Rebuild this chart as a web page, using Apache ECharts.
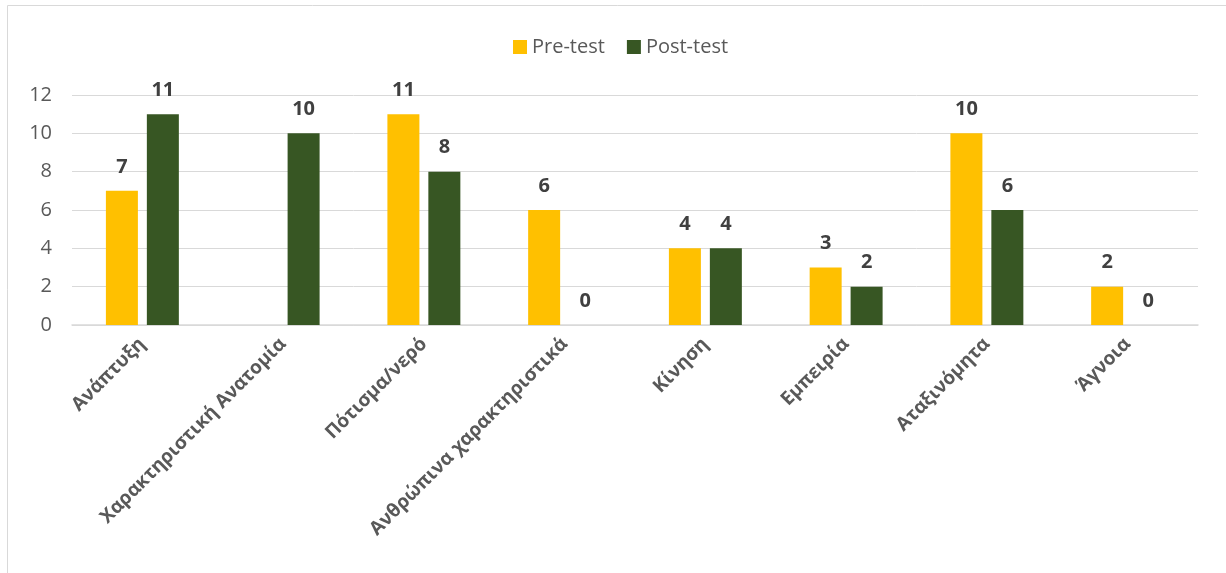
<!DOCTYPE html>
<html><head><meta charset="utf-8">
<script src="https://cdn.jsdelivr.net/npm/echarts@6/dist/echarts.min.js"></script>
<style>html,body{margin:0;padding:0;background:#fff}#c{width:1226px;height:573px}</style>
</head><body><div id="c"></div>
<script>
const categories = ['Ανάπτυξη','Χαρακτηριστική Ανατομία','Πότισμα/νερό','Ανθρώπινα χαρακτηριστικά','Κίνηση','Εμπειρία','Αταξινόμητα','Άγνοια'];
const preTest = [7, null, 11, 6, 4, 3, 10, 2];
const postTest = [11, 10, 8, 0, 4, 2, 6, 0];
const yTicks = {min: 0, max: 12, interval: 2};
const FONT = 'Open Sans';
const chart = echarts.init(document.getElementById('c'), null, {renderer: 'canvas'});
const lbl = {show: true, position: 'top', distance: 14, fontFamily: FONT, fontWeight: 'bold', fontSize: 20, color: '#404040'};
chart.setOption({
  animation: false,
  textStyle: {fontFamily: FONT},
  graphic: [{type: 'rect', shape: {x: 7.5, y: 5.5, width: 1240, height: 600}, style: {fill: 'none', stroke: '#d9d9d9', lineWidth: 1}, silent: true}],
  legend: {top: 32, left: 508, itemWidth: 14, itemHeight: 14, itemGap: 22, icon: 'rect',
    textStyle: {fontFamily: FONT, fontSize: 20, color: '#595959'}},
  grid: {left: 72, right: 28, top: 95, bottom: 248, containLabel: false},
  xAxis: {type: 'category', data: categories,
    axisLine: {lineStyle: {color: '#d9d9d9', width: 1.5}}, axisTick: {show: false},
    axisLabel: {rotate: 45, interval: 0, margin: 16, fontFamily: FONT, fontWeight: 'bold', fontSize: 19, color: '#595959'}},
  yAxis: {type: 'value', min: yTicks.min, max: yTicks.max, interval: yTicks.interval,
    axisLine: {show: false}, axisTick: {show: false},
    splitLine: {lineStyle: {color: '#d9d9d9', width: 1}},
    axisLabel: {margin: 20, fontFamily: FONT, fontSize: 20, color: '#595959'}},
  series: [
    {name: 'Pre-test', type: 'bar', data: preTest, barWidth: 32, barGap: '28%', itemStyle: {color: '#FFC000'}, label: lbl},
    {name: 'Post-test', type: 'bar', data: postTest, barWidth: 32, itemStyle: {color: '#375623'}, label: lbl}
  ]
});
</script></body></html>
